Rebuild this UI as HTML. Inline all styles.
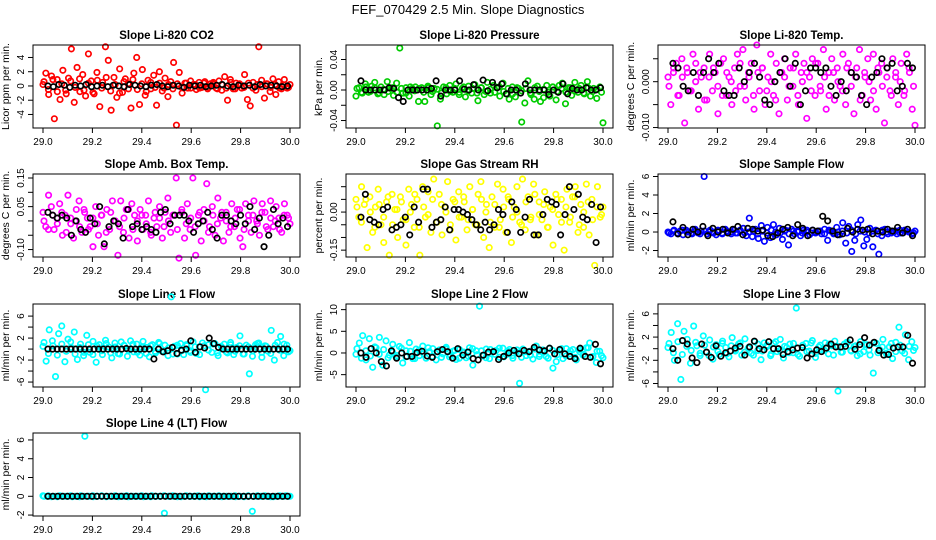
<!DOCTYPE html>
<html><head><meta charset="utf-8">
<style>
html,body{margin:0;padding:0;background:#fff;}
svg{display:block;font-family:"Liberation Sans",Arial,sans-serif;}
</style></head>
<body>
<svg id="chart" width="936" height="540" viewBox="0 0 936 540" xmlns="http://www.w3.org/2000/svg">
<rect x="0" y="0" width="936" height="540" fill="#fff"/>
<text x="468" y="14" text-anchor="middle" font-size="13">FEF_070429  2.5 Min. Slope Diagnostics</text>
</svg>
<script>
const xTicks = [29.0, 29.2, 29.4, 29.6, 29.8, 30.0];
const xTickLabels = ["29.0", "29.2", "29.4", "29.6", "29.8", "30.0"];

const co2Main = [0.2,1.8,-1.2,1.4,-4.6,0.9,-1.9,2.2,-0.6,1.1,5.2,-2.3,2.6,-0.8,1.6,-1.4,4.5,0.7,-1.1,1.9,-2.9,0.5,5.5,3.6,-3.4,1.2,-1.6,2.4,-0.9,1.0,0.3,-3.1,1.8,4.0,-2.6,2.3,-1.3,0.8,-0.4,1.5,-2.7,2.0,-0.7,1.1,-1.5,0.6,3.3,-5.5,1.9,-1.0,0.4,-0.3,0.7,0.2,-0.5,0.5,-0.2,0.6,-0.4,0.3,0.5,-0.3,0.7,-0.6,1.3,-2.0,0.9,-0.4,0.4,0.2,-0.3,1.6,-1.9,-2.8,0.5,-0.6,5.5,0.8,-1.7,0.3,-0.8,1.0,-1.2,0.6,-0.4,0.9,-0.3,0.2];
const co2Core = [0.6,-0.5,0.9,-0.8,0.3,-1.1,0.7,-0.2,1.0,-0.6,0.4,-0.9,0.8,-0.3,1.2,-0.7,0.2,-1.0,0.6,-0.4,0.9,-0.5,0.3,-0.8,0.5,-0.2,0.4,-0.3,0.2,-0.4,0.3,-0.2,0.4,-0.3,0.2,-0.3,0.4,-0.2,0.3,-0.4,0.2,-0.3,0.5,-0.4,0.3,-0.2,0.4,-0.3,0.2,-0.1,0.3,-0.2,0.2,-0.3,0.1,-0.2];
const co2Black = [0,-0.1,0.2,0.1,-0.2,0.1,0,0.2,-0.1,0,0.1,-0.1,0.1,0,-0.1,0.2,0.1,0,-0.1,0.1,0.2,0,-0.1,0.1,0,-0.2,0.1,0,0.1,-0.1,0,0.1,0.2,0,-0.1,0.1,0,0.1,-0.1,0.2,0,0.1,0,-0.1,0];
const presMain = [-0.008,0.003,-0.004,0.008,-0.003,0.005,0.01,-0.005,0.004,-0.006,0.011,0.002,-0.007,0.009,0.055,-0.004,0.003,-0.008,0.002,0.004,-0.015,0.003,-0.015,0.005,-0.006,0.002,-0.047,-0.012,0.004,-0.005,0.006,-0.003,0.008,-0.006,0.002,-0.009,0.005,-0.004,0.007,-0.014,0.003,-0.006,0.01,-0.004,0.006,0.003,-0.008,0.009,-0.005,-0.012,0.004,-0.009,0.002,-0.042,-0.017,0.012,-0.006,-0.012,0.005,-0.015,-0.01,0.006,-0.008,0.004,-0.013,0.006,0.009,-0.018,0.003,-0.007,0.01,-0.003,0.006,-0.005,0.011,-0.008,0.002,-0.011,0.004,-0.043];
const presCore = [0.002,-0.003,0.004,-0.002,0.003,-0.004,0.001,-0.002,0.003,-0.003,0.002,-0.004,0.004,-0.001,0.002,-0.003,0.003,-0.002,0.001,-0.004,0.003,-0.002,0.002,-0.003,0.004,-0.001,0.002,-0.004,0.003,-0.002,0.001,-0.003,0.004,-0.002,0.002,-0.005,0.003,-0.001,0.002,-0.004,0.003,-0.002,0.001,-0.003,0.004,-0.002,0.002,-0.003,0.003,-0.001,0.002,-0.004,0.003,-0.002,0.001,-0.003];
const presBlack = [0.012,0,0,0,0,0,0.003,0.002,-0.01,-0.015,0,0,0,0,0,0.002,0.012,-0.008,0,0,0,0.012,0.001,0,0.007,0,0.013,-0.001,0.01,0.003,0.008,-0.005,0,0,-0.004,0.008,0,0,0,0,-0.006,0,-0.003,0.008,-0.005,0.002,0,0,0.003,0,0,0.003];
const licTempMain = [0.001,-0.005,0.003,0.004,-0.003,0.005,-0.009,0.002,-0.002,0.006,0.004,-0.006,0.001,0.003,-0.004,0.006,-0.002,0.002,-0.007,0.004,0.005,-0.003,0.001,-0.005,0.003,0.006,-0.001,0.007,-0.004,0.002,0.004,-0.006,0.008,-0.002,0.003,-0.005,0.001,0.006,-0.003,0.004,-0.007,0.002,0.005,-0.004,0.003,-0.001,0.006,-0.005,0.002,0.004,-0.008,0.001,0.005,-0.003,0.004,-0.002,0.007,-0.006,0.002,0.005,-0.004,0.003,-0.001,0.006,-0.005,0.004,0.002,-0.007,0.003,0.007,-0.003,0.001,0.005,-0.004,0.006,-0.006,0.002,0.004,-0.009,0.003,-0.002,0.005,0.001,-0.005,0.004,-0.003,0.006,0.002,-0.006,-0.0095];
const licTempCore = [-0.001,0.002,-0.003,0.001,0.003,-0.002,0.000,0.002,-0.004,0.001,0.003,-0.001,-0.003,0.002,0.000,-0.002,0.004,-0.001,0.001,-0.003,0.002,0.003,-0.002,0.000,-0.004,0.002,0.001,-0.001,0.003,-0.003,0.000,0.002,-0.002,0.004,-0.001,0.001,-0.003,0.002,0.000,-0.002,0.003,-0.001,0.001,-0.004,0.002,0.000,-0.002,0.003,-0.001,0.001,-0.003,0.002,0.000,-0.002,0.003,-0.001];
const licTempBlack = [0.004,0.003,-0.001,-0.002,0.002,-0.003,0.002,0.005,0.002,0.004,-0.002,-0.003,-0.003,0.003,0,0.002,0.004,0.001,-0.004,-0.005,0,0.002,0.005,-0.001,0.004,-0.005,-0.002,0.003,0.003,0.002,0.003,-0.001,-0.003,0,-0.002,0.002,0.001,-0.003,-0.005,0.001,0.002,0.005,0.003,0.004,-0.002,-0.001,0.004,0.003];
const ambMain = [0.03,-0.02,0.09,0.05,-0.03,0.01,0.06,-0.05,0.02,0.09,-0.01,-0.06,0.04,0.07,-0.04,0.03,0.01,-0.02,-0.09,0.05,-0.05,0.02,-0.09,0.04,-0.03,0.07,0.00,-0.12,0.07,-0.04,0.04,-0.06,0.06,0.02,-0.07,0.04,-0.03,0.02,0.07,-0.05,0.01,-0.02,0.05,-0.06,0.03,0.08,-0.04,0.02,0.15,-0.13,0.03,-0.06,0.06,-0.03,0.15,-0.12,0.02,-0.07,0.04,0.13,-0.02,0.05,-0.05,0.08,0.01,-0.07,0.03,-0.04,0.06,-0.02,0.04,-0.06,-0.09,0.06,0.02,-0.04,0.07,0.00,-0.05,0.06,0.03,-0.03,0.07,-0.02,0.05,0.01,-0.04,0.06,0.02,-0.01];
const ambCore = [0.00,-0.03,0.02,-0.01,0.03,-0.04,0.01,0.00,-0.02,0.04,-0.03,0.01,-0.01,0.02,-0.04,0.03,0.00,-0.02,0.01,0.04,-0.03,0.00,0.02,-0.01,-0.04,0.03,0.01,-0.02,0.00,0.02,-0.03,0.04,-0.01,0.01,-0.02,0.03,0.00,-0.04,0.02,-0.01,0.03,0.00,-0.02,0.01,0.04,-0.03,0.00,0.02,-0.01,0.03,-0.02,0.01,0.00,-0.03,0.02,0.01];
const ambBlack = [0.03,0.02,0.01,0.02,0.01,-0.05,0.00,-0.03,-0.04,0.01,-0.01,0.05,-0.08,-0.02,0.00,-0.01,-0.06,0.04,-0.02,-0.01,-0.03,-0.02,-0.03,-0.04,0.03,0.04,-0.01,0.02,0.02,0.02,0.00,-0.04,-0.01,0.00,0.03,-0.03,-0.06,0.02,0.02,0.00,-0.01,0.02,-0.01,0.05,-0.03,0.01,-0.09,-0.05,0.04,-0.01,0.01,-0.02];
const rhMain = [0.05,-0.02,0.10,0.03,-0.14,0.06,-0.08,0.02,0.09,-0.05,-0.12,0.04,-0.17,0.07,0.01,-0.10,0.06,-0.03,-0.13,0.09,0.03,-0.06,0.05,-0.17,0.10,-0.02,0.08,-0.08,0.13,-0.04,0.07,-0.09,0.02,0.12,-0.05,0.05,-0.11,0.08,-0.02,0.04,-0.07,0.10,0.01,-0.05,0.07,0.12,-0.10,0.03,-0.14,0.06,-0.06,0.11,-0.03,0.09,-0.08,0.05,-0.12,0.02,0.10,-0.04,0.13,-0.07,0.06,-0.02,0.11,-0.09,0.04,-0.03,0.08,-0.06,0.02,-0.13,0.07,-0.01,0.05,-0.15,0.09,-0.04,0.06,0.10,-0.08,0.03,-0.06,0.11,-0.09,0.05,-0.21,0.10,-0.02,0.02];
const rhCore = [0.02,-0.04,0.05,0.00,-0.06,0.03,-0.02,0.06,-0.05,0.01,0.04,-0.03,0.00,0.07,-0.06,0.02,-0.01,0.05,-0.04,0.03,0.00,-0.07,0.04,-0.02,0.06,-0.03,0.01,-0.05,0.05,0.00,-0.04,0.03,-0.06,0.02,0.06,-0.02,0.00,-0.05,0.04,-0.03,0.07,-0.01,0.03,-0.06,0.01,0.05,-0.04,0.02,-0.02,0.06,-0.05,0.00,0.04,-0.03,0.02,-0.01];
const rhBlack = [-0.02,0.07,-0.03,-0.04,-0.05,0.01,0.02,-0.07,-0.06,-0.05,-0.02,-0.09,0.02,-0.04,0.09,0.09,-0.06,-0.04,-0.03,0.02,-0.07,0.01,0.01,0.00,-0.01,-0.03,-0.05,-0.07,-0.04,-0.07,-0.05,0.01,-0.01,-0.08,0.04,0.01,-0.08,-0.02,0.05,-0.09,-0.09,-0.01,0.05,0.04,0.03,-0.09,-0.01,0.10,0.01,0.07,-0.02,-0.03,0.03,-0.12,0.02];
const sampleMain = [0,-0.2,0.2,-0.1,0.1,-0.3,0.2,0,-0.2,0.3,-0.1,0.1,6.0,-0.2,0.2,0,-0.3,0.1,-0.1,0.3,0,-0.2,0.2,-0.1,0.1,0.4,-0.4,1.5,-0.5,0.3,-0.7,0.7,-1.0,0.5,-0.6,0.8,-0.3,0.4,-0.8,0.2,-1.4,0.3,-0.2,0.1,-0.4,0.2,0,-0.3,0.2,-0.1,0.1,-0.2,0.3,-0.9,0.1,-0.2,0.5,-0.3,1.0,-1.2,0.6,-2.1,-0.9,0.8,1.3,-1.5,-0.8,0.4,-1.6,0.2,-2.4,-0.4,0.3,-0.2,0.1,0,-0.2,0.2,-0.1,0.1,0,-0.2,0.1];
const sampleCore = [-0.1,0.1,-0.2,0.2,0,-0.1,0.1,-0.2,0.1,0,-0.1,0.2,-0.2,0.1,0,-0.1,0.2,-0.1,0,0.1,-0.2,0.1,-0.1,0.2,0,-0.1,0.1,-0.2,0.1,0,-0.1,0.2,-0.1,0,0.1,-0.2,0.2,-0.1,0,0.1,-0.1,0.2,-0.2,0.1,0,-0.1,0.1,-0.2,0.2,0,-0.1,0.1,-0.1,0.2,0,-0.1];
const sampleBlack = [1.1,-0.2,0.5,-0.3,0.3,0,0.6,-0.4,0.4,0,0.3,-0.1,0.3,0.6,-0.3,0.4,0.3,0.1,0.2,-0.4,-0.5,-0.1,0.3,0.5,-0.4,0.8,0.4,-0.4,0.2,0.1,1.7,1.2,0.1,-0.3,-0.2,0.4,0,0.3,0.2,0.3,-0.2,0.1,0,0.3,0.1,0.5,-0.1,0.3,-0.4];
const line1Main = [0.5,-2.2,3.5,1.5,-5.0,2.8,4.2,-2.3,1.8,0.3,3.1,-1.9,0.9,-1.2,2.5,-0.6,1.4,-2.4,0.8,-1.0,1.6,0.4,-1.6,1.1,-0.8,1.3,0.6,-1.3,1.5,-0.5,0.9,-1.1,1.4,0.3,-1.4,0.8,-0.7,1.2,-0.4,0.7,-1.2,9.5,0.5,-0.9,1.0,-1.0,0.6,-0.3,1.3,-0.8,0.4,1.1,-7.4,0.8,-0.6,1.0,-1.2,0.5,0.9,-0.7,1.2,-1.0,0.3,2.4,-0.9,0.7,-4.5,-1.3,0.8,1.1,-1.5,0.6,-0.4,3.4,-2.0,1.2,2.3,-1.2,0.7,-0.3];
const line1Core = [1.2,-0.8,0.6,-1.1,0.9,-0.4,1.3,-0.9,0.3,-0.6,0.8,-1.0,0.5,-0.3,1.0,-0.7,0.4,-0.9,0.7,-0.2,0.9,-0.6,0.3,-0.8,0.6,-0.4,1.0,-0.5,0.2,-0.9,0.7,-0.3,0.8,-0.6,0.4,-1.0,0.6,-0.2,0.9,-0.7,0.3,-0.5,0.8,-0.4,0.6,-0.9,0.4,-0.3,1.0,-0.6,0.5,-0.8,0.7,-0.2,0.9,-0.5];
const line1Black = [0,0,0,0,0,0,0,0,0,0,0,0,0,0,0,0,0,0.1,0,0,0,0,0,-1.8,0,-0.5,-0.3,0.3,-0.8,-0.2,0,1.5,-0.6,0.4,0.2,2.0,1.0,0.3,0,0,0,0,0,0,0,0,0,0,0,0,0,0,0];
const line2Main = [-0.3,2.3,4.0,-1.6,3.3,-3.3,1.2,3.6,-2.8,2.8,-0.5,2.0,-1.0,1.5,-2.3,0.5,2.4,-1.3,0.9,-0.6,1.6,-1.2,0.3,1.0,-1.6,0.7,-0.2,1.3,-0.9,0.4,-1.5,0.8,0.1,-1.1,1.2,-2.8,0.5,10.8,-0.7,0.9,-1.3,0.3,0.6,-1.0,1.1,-0.4,0.8,-1.2,0.2,-7.0,0.9,-0.6,0.4,-1.4,1.6,-0.3,0.7,-0.8,1.1,-3.5,-2.0,0.6,-1.3,1.0,-0.2,0.8,-1.6,0.3,-0.5,1.2,2.3,-0.8,-2.2,0.4,-1.1];
const line2Core = [1.0,-1.2,0.5,-0.7,1.4,-0.3,0.8,-1.1,0.2,-0.6,1.1,-0.9,0.4,-1.3,0.7,-0.2,1.2,-0.8,0.3,-1.0,0.9,-0.5,0.6,-1.2,0.2,-0.7,1.0,-0.4,0.5,-1.1,0.8,-0.3,1.1,-0.9,0.4,-0.6,0.7,-1.0,0.3,-0.5,0.9,-0.8,0.2,-1.2,0.6,-0.4,1.0,-0.7,0.5,-1.0,0.8,-0.3,1.2,-0.9,0.4,-0.6];
const line2Black = [0,-1,1,0,-2,-3,0.5,-1.2,0,-0.8,-0.8,0.1,0.4,-0.7,-1,0.3,0.8,0.3,-1.2,1,-0.5,0.2,-1.3,-1.6,-0.5,0.2,0.3,-1.5,-0.8,0,0.6,-0.2,0.6,0.3,1.3,0.7,0.5,1.1,-0.2,0.8,-0.2,-0.8,-1.3,1.1,-0.8,-1,2,-2.5];
const line3Main = [0.2,2.8,-2.0,4.3,-5.3,3.0,1.6,-2.5,3.9,0.5,-1.2,2.2,-0.6,1.5,-1.8,0.7,-1.0,1.3,0.2,-1.4,1.9,-0.4,0.8,-1.1,1.7,0.1,-0.8,1.2,-0.3,-1.9,1.0,0.4,-1.2,0.9,-0.5,1.6,-1.6,0.2,0.8,-0.7,7.0,-1.3,0.6,0.9,-0.4,1.4,-1.5,0.3,-0.2,1.0,-0.9,0.5,1.3,-7.3,-0.6,0.8,1.1,-0.3,0.4,-1.2,1.2,-0.5,0.7,-1.1,-4.2,0.9,-0.2,1.6,-0.8,0.3,-1.7,1.1,3.7,-0.4,2.4,-1.9,1.2,0.2];
const line3Core = [0.9,-0.7,1.2,-1.0,0.4,-0.3,1.1,-0.8,0.6,-1.2,0.3,-0.5,0.9,-0.9,0.5,-0.2,1.0,-0.6,0.3,-1.1,0.8,-0.4,0.6,-0.9,1.2,-0.3,0.4,-0.7,0.9,-1.0,0.2,-0.5,1.0,-0.8,0.6,-0.3,0.8,-1.1,0.4,-0.6,1.1,-0.4,0.5,-0.9,0.7,-0.2,1.0,-0.7,0.3,-1.0,0.9,-0.5,0.6,-0.8,0.4,-0.3];
const line3Black = [0,-2,1.4,0.8,-1.6,-2.4,0.8,-0.6,-1.5,0.5,-1.3,-0.7,-0.4,0.1,0.4,-1.1,0.3,1.3,0,-0.2,1.2,0,0,-1.0,-0.5,-0.2,0.1,0.2,-1.6,-0.9,-0.2,-0.5,0.1,0.8,0.3,0.3,0.4,1.5,-0.1,0.7,1.9,0.6,1.1,-0.3,-1.1,-1.0,0.1,0.3,0.3,2.3,-2.5];
const line4Main = [0.05,0,-0.05,0,0.05,0,0,-0.05,0,0.05,6.4,0,-0.05,0,0.05,0,0,0,-0.05,0,0.05,0,0,0,-0.05,0,0.05,0,0,-1.8,0,0.05,0,-0.05,0,0,0,0.05,0,-0.05,0,0,0.05,0,0,0,-0.05,0,0,0.05,-1.6,0,0,0.05,0,-0.05,0,0,0.05,0];
const line4Core = [0,0.05,0,-0.05,0,0,0.05,0,-0.05,0,0,0.05,0,0,-0.05,0,0.05,0,0,-0.05,0,0,0.05,0,-0.05,0,0,0.05,0,0,-0.05,0,0.05,0,0,-0.05,0,0.05,0,0,-0.05,0,0,0.05,0,-0.05,0,0,0.05,0,0,-0.05,0,0.05,0,0];
const line4Black = [0,0,0,0,0,0,0,0,0,0,0,0,0,0,0,0,0,0,0,0,0,0,0,0,0,0,0,0,0,0,0,0,0,0,0,0,0,0,0,0,0,0,0,0,0,0,0,0,0,0];

const panels = [
 {name:"co2",title:"Slope Li-820 CO2",ylab:"Licor ppm per min.",col:0,row:0,ymin:-5.9,ymax:5.75,ticks:[-4,-2,0,2,4],labels:["-4","-2","0","2","4"],color:"#ff0000",main:co2Main,core:co2Core,black:co2Black},
 {name:"pressure",title:"Slope Li-820 Pressure",ylab:"kPa per min.",col:1,row:0,ymin:-0.0498,ymax:0.059,ticks:[-0.04,-0.02,0,0.02,0.04],labels:["-0.04","","0.00","","0.04"],color:"#00cc00",main:presMain,core:presCore,black:presBlack},
 {name:"li820-temp",title:"Slope Li-820 Temp.",ylab:"degrees C per min.",col:2,row:0,ymin:-0.0101,ymax:0.008,ticks:[-0.01,-0.005,0,0.005],labels:["-0.010","","0.000",""],color:"#ff00ff",main:licTempMain,core:licTempCore,black:licTempBlack},
 {name:"amb-box-temp",title:"Slope Amb. Box Temp.",ylab:"degrees C per min.",col:0,row:1,ymin:-0.126,ymax:0.164,ticks:[-0.1,-0.05,0,0.05,0.1,0.15],labels:["-0.10","","","0.05","","0.15"],color:"#ff00ff",main:ambMain,core:ambCore,black:ambBlack},
 {name:"gas-stream-rh",title:"Slope Gas Stream RH",ylab:"percent per min.",col:1,row:1,ymin:-0.177,ymax:0.15,ticks:[-0.15,-0.1,-0.05,0,0.05,0.1],labels:["-0.15","","","0.00","",""],color:"#ffff00",main:rhMain,core:rhCore,black:rhBlack},
 {name:"sample-flow",title:"Slope Sample Flow",ylab:"ml/min per min.",col:2,row:1,ymin:-2.7,ymax:6.27,ticks:[-2,0,2,4,6],labels:["-2","0","2","4","6"],color:"#0000ff",main:sampleMain,core:sampleCore,black:sampleBlack},
 {name:"line1-flow",title:"Slope Line 1 Flow",ylab:"ml/min per min.",col:0,row:2,ymin:-6.9,ymax:8.2,ticks:[-6,-4,-2,0,2,4,6],labels:["-6","","-2","","2","","6"],color:"#00ffff",main:line1Main,core:line1Core,black:line1Black},
 {name:"line2-flow",title:"Slope Line 2 Flow",ylab:"ml/min per min.",col:1,row:2,ymin:-7.85,ymax:11.3,ticks:[-5,0,5,10],labels:["-5","0","5","10"],color:"#00ffff",main:line2Main,core:line2Core,black:line2Black},
 {name:"line3-flow",title:"Slope Line 3 Flow",ylab:"ml/min per min.",col:2,row:2,ymin:-6.6,ymax:7.7,ticks:[-6,-4,-2,0,2,4,6],labels:["-6","","-2","","2","","6"],color:"#00ffff",main:line3Main,core:line3Core,black:line3Black},
 {name:"line4-flow",title:"Slope Line 4 (LT) Flow",ylab:"ml/min per min.",col:0,row:3,ymin:-2.1,ymax:6.74,ticks:[-2,0,2,4,6],labels:["-2","0","2","4","6"],color:"#00ffff",main:line4Main,core:line4Core,black:line4Black}
];

const NS = "http://www.w3.org/2000/svg";
const svg = document.getElementById("chart");
const colLeft = [33, 346, 658];
const rowTop = [45, 174, 304, 433];
const W = 267, H = 83;
function mk(tag, attrs, parent) {
  const e = document.createElementNS(NS, tag);
  for (const k in attrs) e.setAttribute(k, attrs[k]);
  parent.appendChild(e);
  return e;
}
panels.forEach(p => {
  const L = colLeft[p.col], T = rowTop[p.row], B = T + H;
  const g = mk("g", {}, svg);
  
  
  const xS = v => L + 10 + (v - 29) * 247;
  const yS = v => B - (v - p.ymin) / (p.ymax - p.ymin) * H;
  const t = mk("text", {x: L + W / 2, y: T - 6, "text-anchor": "middle", "font-size": "11.5", "font-weight": "bold"}, g);
  t.textContent = p.title;
  
  
  const yl = mk("text", {x: 0, y: 0, "text-anchor": "middle", "font-size": "10.5", transform: `translate(${L - 24},${T + H / 2}) rotate(-90)`}, g);
  yl.textContent = p.ylab;
  
  
  const pts = mk("g", {fill: "none", "stroke-width": "1.7"}, g);
  
  
  p.core.forEach((v, i) => {
    const c = mk("circle", {cx: xS(29.004 + 0.99 * i / (p.core.length - 1)), cy: yS(v), r: 2.7, stroke: p.color}, pts);
    
    
  });
  p.main.forEach((v, i) => {
    const c = mk("circle", {cx: xS(29 + i / (p.main.length - 1)), cy: yS(v), r: 2.7, stroke: p.color}, pts);
    
    
  });
  p.black.forEach((v, i) => {
    const c = mk("circle", {cx: xS(29.02 + 0.97 * i / (p.black.length - 1)), cy: yS(v), r: 2.7, stroke: "#000"}, pts);
    
    
  });
  const box = mk("rect", {x: L, y: T, width: W, height: H, fill: "none", stroke: "#000", "stroke-width": "1"}, g);
  
  
  xTicks.forEach((v, i) => {
    mk("line", {x1: xS(v), x2: xS(v), y1: B, y2: B + 5, stroke: "#000"}, g);
    const tl = mk("text", {x: xS(v), y: B + 17, "text-anchor": "middle", "font-size": "10"}, g);
    tl.textContent = xTickLabels[i];
    
    
  });
  p.ticks.forEach((v, i) => {
    mk("line", {x1: L - 5, x2: L, y1: yS(v), y2: yS(v), stroke: "#000"}, g);
    if (p.labels[i]) {
      const tl = mk("text", {x: 0, y: 0, "text-anchor": "middle", "font-size": "10", transform: `translate(${L - 9},${yS(v)}) rotate(-90)`}, g);
      tl.textContent = p.labels[i];
      
      
    }
  });
});
</script>
</body></html>
